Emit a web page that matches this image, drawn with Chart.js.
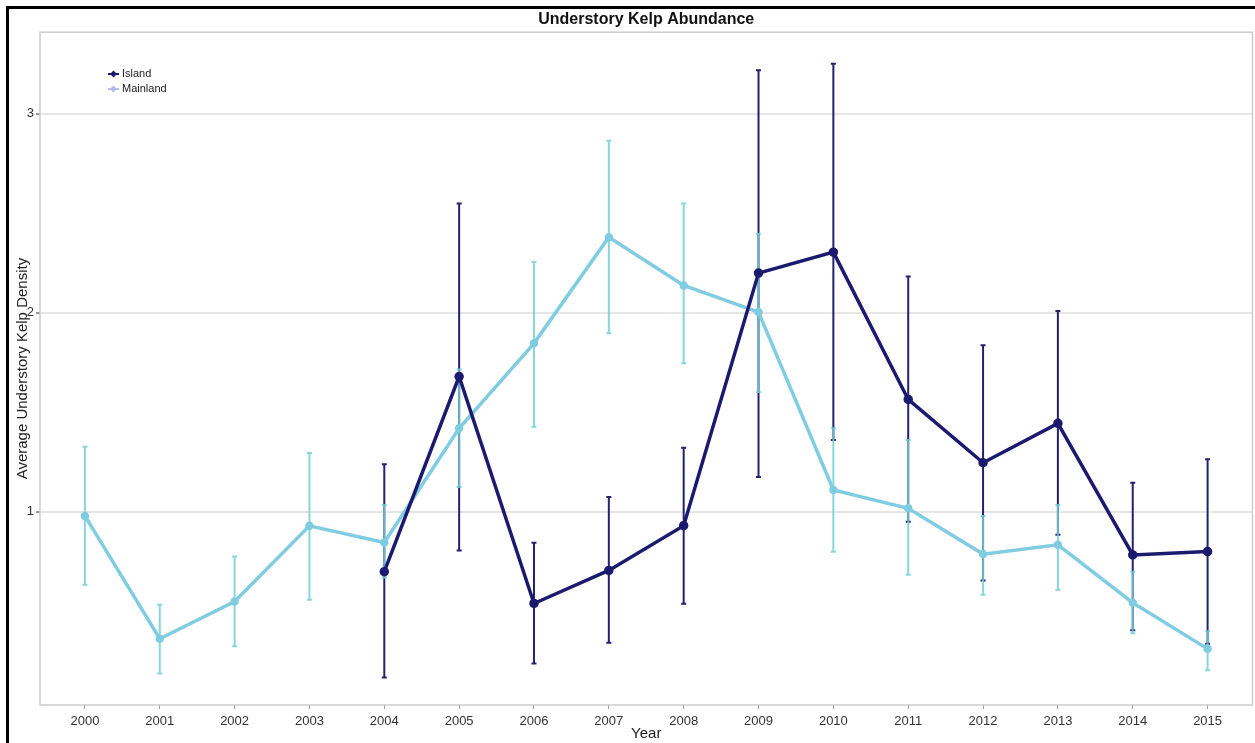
<!DOCTYPE html>
<html>
<head>
<meta charset="utf-8">
<script src="https://cdn.jsdelivr.net/npm/chart.js@4.4.1/dist/chart.umd.min.js"></script>
<style>
  html, body { margin: 0; padding: 0; background: #fff; overflow: hidden; }
  #wrap { position: relative; width: 1255px; height: 743px; overflow: hidden; }
  #frame { position: absolute; left: 6px; top: 6px; right: -10px; bottom: -10px;
           border-top: 3px solid #000; border-left: 3px solid #000; pointer-events: none; }
</style>
</head>
<body>
<div id="wrap">
  <canvas id="kelpChart" width="1259" height="743"></canvas>
  <div id="frame"></div>
</div>
<script>
const years = [2000, 2001, 2002, 2003, 2004, 2005, 2006, 2007, 2008, 2009, 2010, 2011, 2012, 2013, 2014, 2015];
const yTicks = [1, 2, 3];

const islandMean = [null, null, null, null, 0.70, 1.68, 0.54, 0.706, 0.931, 2.20, 2.305, 1.565, 1.247, 1.445, 0.784, 0.801];
const islandLow  = [null, null, null, null, 0.168, 0.806, 0.238, 0.343, 0.539, 1.175, 1.361, 0.951, 0.656, 0.885, 0.405, 0.338];
const islandHigh = [null, null, null, null, 1.24, 2.55, 0.845, 1.075, 1.322, 3.219, 3.252, 2.183, 1.837, 2.009, 1.147, 1.264];

const mainlandMean = [0.98, 0.363, 0.55, 0.93, 0.846, 1.42, 1.847, 2.38, 2.138, 2.004, 1.11, 1.018, 0.788, 0.835, 0.544, 0.312];
const mainlandLow  = [0.634, 0.188, 0.325, 0.559, 0.67, 1.125, 1.428, 1.897, 1.747, 1.603, 0.80, 0.684, 0.584, 0.609, 0.39, 0.205];
const mainlandHigh = [1.327, 0.534, 0.776, 1.296, 1.035, 1.715, 2.255, 2.865, 2.55, 2.397, 1.42, 1.361, 0.98, 1.035, 0.70, 0.40];

const islandColor = "#1b1a6f";
const mainlandColor = "#80cde2";

function toPoints(values) {
  return years.map((yr, i) => ({ x: yr, y: values[i] }));
}

// error bars, drawn under the lines
const errorBars = {
  id: "errorBars",
  beforeDatasetsDraw(chart) {
    const ctx = chart.ctx;
    const xs = chart.scales.x;
    const ys = chart.scales.y;
    const series = [
      { low: islandLow, high: islandHigh, color: "#23226f", alpha: 1 },
      { low: mainlandLow, high: mainlandHigh, color: "#72cfd6", alpha: 0.85 }
    ];
    ctx.save();
    series.forEach(s => {
      ctx.strokeStyle = s.color;
      ctx.globalAlpha = s.alpha;
      ctx.lineWidth = 2;
      years.forEach((yr, i) => {
        if (s.low[i] == null) return;
        const x = xs.getPixelForValue(yr);
        const y1 = ys.getPixelForValue(s.low[i]);
        const y2 = ys.getPixelForValue(s.high[i]);
        ctx.beginPath();
        ctx.moveTo(x, y1); ctx.lineTo(x, y2);
        ctx.moveTo(x - 2.5, y1); ctx.lineTo(x + 2.5, y1);
        ctx.moveTo(x - 2.5, y2); ctx.lineTo(x + 2.5, y2);
        ctx.stroke();
      });
    });
    ctx.restore();
  },
  afterDraw(chart) {
    const ctx = chart.ctx;
    const a = chart.chartArea;
    ctx.save();
    // plot frame
    ctx.strokeStyle = "#cccccc";
    ctx.lineWidth = 1.5;
    ctx.strokeRect(a.left, a.top, a.right - a.left, a.bottom - a.top);
    // legend
    const items = [
      { label: "Island", color: islandColor, y: 74 },
      { label: "Mainland", color: "#b7b9e6", y: 89 }
    ];
    ctx.font = "11px 'Liberation Sans', Arial, sans-serif";
    ctx.textBaseline = "middle";
    items.forEach(it => {
      ctx.strokeStyle = it.color;
      ctx.fillStyle = it.color;
      ctx.lineWidth = 2;
      ctx.beginPath();
      ctx.moveTo(108, it.y); ctx.lineTo(119, it.y);
      ctx.stroke();
      ctx.beginPath();
      ctx.moveTo(113.5, it.y - 3.5); ctx.lineTo(117, it.y);
      ctx.lineTo(113.5, it.y + 3.5); ctx.lineTo(110, it.y);
      ctx.closePath(); ctx.fill();
      ctx.fillStyle = "#222";
      ctx.fillText(it.label, 122, it.y);
    });
    ctx.restore();
  }
};

new Chart(document.getElementById("kelpChart").getContext("2d"), {
  type: "line",
  data: {
    datasets: [
      {
        label: "Island",
        data: toPoints(islandMean),
        borderColor: islandColor,
        backgroundColor: islandColor,
        borderWidth: 3.5,
        pointRadius: 3,
        pointHoverRadius: 3,
        tension: 0
      },
      {
        label: "Mainland",
        data: toPoints(mainlandMean),
        borderColor: mainlandColor,
        backgroundColor: mainlandColor,
        borderWidth: 3.5,
        pointRadius: 2.5,
        pointHoverRadius: 2.5,
        tension: 0
      }
    ]
  },
  options: {
    responsive: false,
    animation: false,
    layout: { padding: { left: 0, right: 0, top: 0, bottom: 0 } },
    plugins: {
      legend: { display: false },
      tooltip: { enabled: false },
      title: {
        display: true,
        fullSize: false,
        text: "Understory Kelp Abundance",
        color: "#111",
        font: { family: "'Liberation Sans', Arial, sans-serif", size: 16, weight: "bold" },
        padding: { top: 10, bottom: 3 }
      }
    },
    scales: {
      x: {
        type: "linear",
        min: 1999.4,
        max: 2015.6,
        afterBuildTicks: s => { s.ticks = years.map(v => ({ value: v })); },
        afterFit: s => { s.height = 38; },
        ticks: {
          color: "#333",
          font: { family: "'Liberation Sans', Arial, sans-serif", size: 13 },
          padding: 5,
          maxRotation: 0,
          autoSkip: false,
          callback: v => String(v)
        },
        grid: { drawOnChartArea: false, tickLength: 4, color: "#999" },
        border: { display: false },
        title: {
          display: true,
          text: "Year",
          color: "#222",
          font: { family: "'Liberation Sans', Arial, sans-serif", size: 15 },
          padding: { top: 0, bottom: 0 }
        }
      },
      y: {
        type: "linear",
        min: 0.03,
        max: 3.41,
        afterBuildTicks: s => { s.ticks = yTicks.map(v => ({ value: v })); },
        afterFit: s => { s.width = 40; },
        ticks: {
          color: "#333",
          font: { family: "'Liberation Sans', Arial, sans-serif", size: 13 },
          padding: 2
        },
        grid: { color: "#e6e6e6", lineWidth: 2, tickLength: 4, tickColor: "#999" },
        border: { display: false },
        title: {
          display: true,
          text: "Average Understory Kelp Density",
          color: "#222",
          font: { family: "'Liberation Sans', Arial, sans-serif", size: 15 },
          padding: { top: 14, bottom: 0 }
        }
      }
    }
  },
  plugins: [errorBars]
});
</script>
</body>
</html>
